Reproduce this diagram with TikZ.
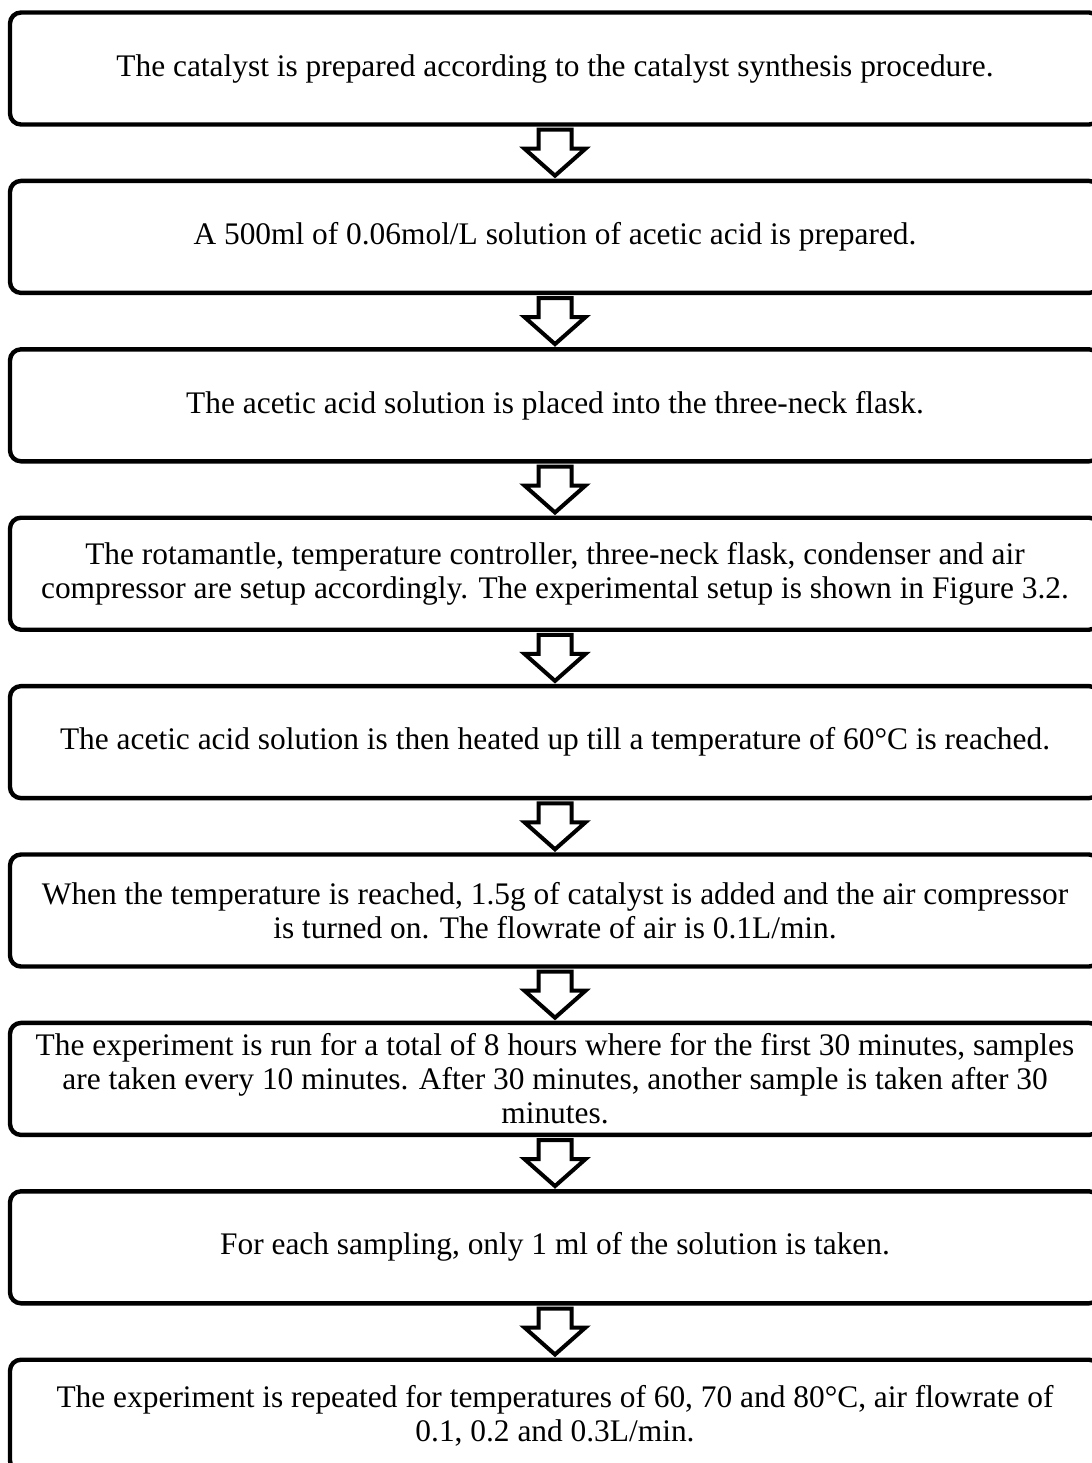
\documentclass[tikz,border=0pt]{standalone}
\usepackage{fontspec}
\setmainfont{Liberation Serif}
\usetikzlibrary{positioning, calc}

\begin{document}
\begin{tikzpicture}[
    x=0.5pt, y=-0.5pt,
    node distance=26pt,
    font=\fontsize{15.7}{17}\selectfont,
    stepbox/.style={draw, line width=2.2pt, rounded corners=5.5pt, align=center, minimum width=545pt, minimum height=56pt, inner sep=2pt},
    flowarrow/.style={line width=2pt, line join=miter, fill=white,
      to path={let \p1=(\tikztostart.south), \p2=(\tikztotarget.north) in
        (\x1-8.25pt,\y1-1.5pt) -- (\x1+8.25pt,\y1-1.5pt) -- (\x1+8.25pt,\y2+15pt)
        -- (\x1+15.25pt,\y2+15pt) -- (\x1,\y2+1.5pt) -- (\x1-15.25pt,\y2+15pt)
        -- (\x1-8.25pt,\y2+15pt) -- cycle}}
  ]
    \useasboundingbox (0,0) rectangle (1092,1463);
    \node[stepbox] (s1) at (555,68.5)
    {The catalyst is prepared according to the catalyst synthesis procedure.};
    \node[stepbox, below=of s1] (s2)
    {A 500ml of 0.06mol/L solution of acetic acid is prepared.};
    \node[stepbox, below=of s2] (s3)
    {The acetic acid solution is placed into the three-neck flask.};
    \node[stepbox, below=of s3] (s4)
    {The rotamantle, temperature controller, three-neck flask, condenser and air\\
     compressor are setup accordingly. The experimental setup is shown in Figure 3.2.};
    \node[stepbox, below=of s4] (s5)
    {The acetic acid solution is then heated up till a temperature of 60°C is reached.};
    \node[stepbox, below=of s5] (s6)
    {When the temperature is reached, 1.5g of catalyst is added and the air compressor\\
     is turned on. The flowrate of air is 0.1L/min.};
    \node[stepbox, below=of s6] (s7)
    {The experiment is run for a total of 8 hours where for the first 30 minutes, samples\\
     are taken every 10 minutes. After 30 minutes, another sample is taken after 30\\
     minutes.};
    \node[stepbox, below=of s7] (s8)
    {For each sampling, only 1 ml of the solution is taken.};
    \node[stepbox, below=of s8] (s9)
    {The experiment is repeated for temperatures of 60, 70 and 80°C, air flowrate of\\
     0.1, 0.2 and 0.3L/min.};
    \draw[flowarrow] (s1) to (s2);
    \draw[flowarrow] (s2) to (s3);
    \draw[flowarrow] (s3) to (s4);
    \draw[flowarrow] (s4) to (s5);
    \draw[flowarrow] (s5) to (s6);
    \draw[flowarrow] (s6) to (s7);
    \draw[flowarrow] (s7) to (s8);
    \draw[flowarrow] (s8) to (s9);
\end{tikzpicture}
\end{document}
